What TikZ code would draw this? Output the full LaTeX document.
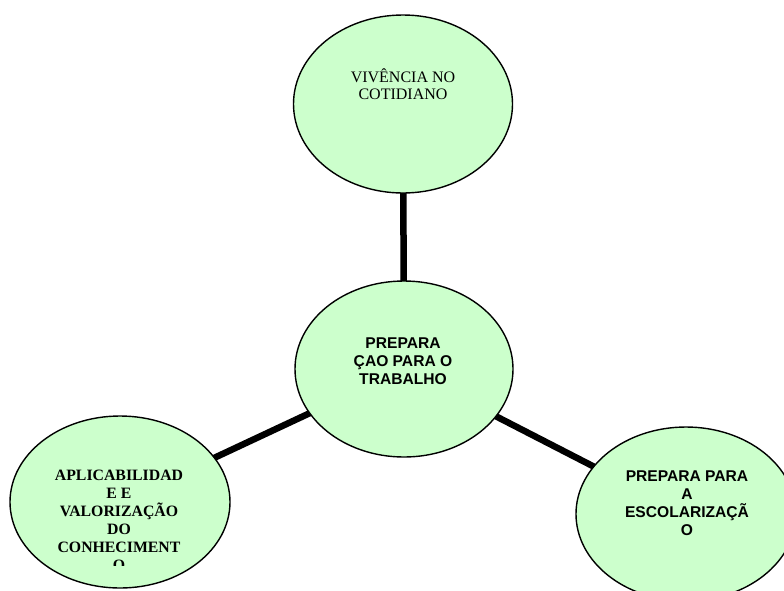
\documentclass[tikz,border=0pt]{standalone}
\usepackage{fontspec}
\setmainfont{Liberation Serif}
\newfontfamily\arialfont{Liberation Sans}
\usetikzlibrary{shapes.geometric}
\definecolor{bubble}{HTML}{CCFFCC}
\tikzset{
  bubblenode/.style={ellipse, draw=black, line width=1.4pt, fill=bubble, inner sep=0pt},
  link/.style={line width=6.5pt, draw=black},
  serifnormal/.style={align=center, inner sep=0pt, font={\fontsize{16}{17.5}\selectfont}},
  serifbold/.style={align=center, inner sep=0pt, font={\fontsize{15.8}{18}\selectfont\bfseries}},
  sansbold/.style={align=center, inner sep=0pt, font={\arialfont\fontsize{15.6}{18}\selectfont\bfseries}},
}
\begin{document}
\begin{tikzpicture}[x=1pt,y=-1pt]
\useasboundingbox (0,0) rectangle (784,590);
\clip (0,0) rectangle (784,590);
\fill[white] (0,0) rectangle (784,590);
% connectors (behind the bubbles)
\coordinate (ctop) at (403,104);
\coordinate (cmid) at (404,369);
\coordinate (cleft) at (120,502);
\coordinate (cright) at (686,514);
\draw[link] (ctop) -- (cmid);
\draw[link] (cmid) -- (cleft);
\draw[link] (cmid) -- (cright);
% bubbles
\node[bubblenode, minimum width=219pt, minimum height=178pt] (top) at (ctop) {};
\node[bubblenode, minimum width=218pt, minimum height=176pt] (mid) at (cmid) {};
\node[bubblenode, minimum width=220pt, minimum height=172pt] (left) at (cleft) {};
\node[bubblenode, minimum width=220pt, minimum height=174pt] (right) at (cright) {};
% texts
\node[serifnormal] (toptext) at (403,84) {VIVÊNCIA NO\\COTIDIANO};
\node[sansbold] (midtext) at (403,361) {PREPARA\\ÇAO PARA O\\TRABALHO};
\node[sansbold] (righttext) at (687,503) {PREPARA PARA\\A\\ESCOLARIZAÇÃ\\O};
\begin{scope}
\clip (0,0) rectangle (784,565);
\node[serifbold] (lefttext) at (119,520) {APLICABILIDAD\\E E\\VALORIZAÇÃO\\DO\\CONHECIMENT\\O};
\end{scope}
\end{tikzpicture}
\end{document}
